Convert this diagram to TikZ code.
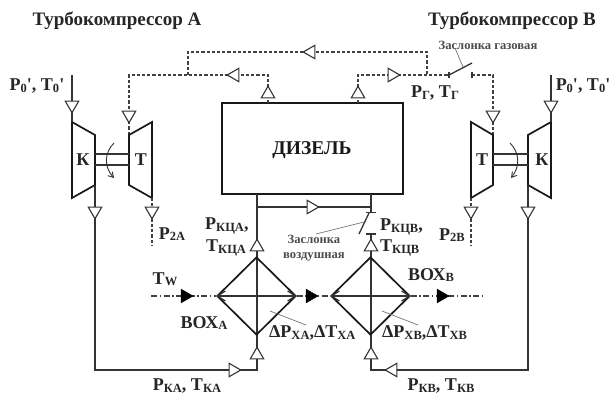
\documentclass[tikz,border=0pt]{standalone}
\usepackage{fontspec}
\setmainfont{Liberation Serif}
\usetikzlibrary{shapes.geometric,arrows.meta}
\newcommand{\sbs}[1]{\raisebox{-1.5pt}{\fontsize{12.5}{12.5}\selectfont #1}}
\tikzset{
  x=1pt,y=-1pt,
  ln/.style={line width=1.3pt,draw=black!80},
  dsh/.style={line width=1.3pt,draw=black!75,dash pattern=on 3.2pt off 2pt},
  dd/.style={line width=1.1pt,draw=black!75,dash pattern=on 6pt off 2.5pt on 1.5pt off 2.5pt},
  thick box/.style={line width=1.7pt,draw=black!90},
  thin lead/.style={line width=.7pt,draw=black!55},
  flow/.style={regular polygon,regular polygon sides=3,draw=black!80,line width=1.1pt,fill=white,inner sep=0pt,minimum size=15.5pt,shape border rotate=#1},
  flowfill/.style={regular polygon,regular polygon sides=3,draw=black,fill=black,inner sep=0pt,minimum size=16pt,shape border rotate=#1},
  lab/.style={font=\bfseries\fontsize{18}{19}\selectfont,text=black!85,inner sep=0pt},
  head/.style={font=\bfseries\fontsize{19}{20}\selectfont,text=black!85,inner sep=0pt},
  small/.style={font=\bfseries\fontsize{12.6}{15}\selectfont,text=black!70,inner sep=0pt,align=center},
  mach/.style={thick box,line join=miter},
}
\begin{document}
\begin{tikzpicture}
\useasboundingbox (0,0) rectangle (611,394);
\fill[white] (0,0) rectangle (611,394);

% texts
\node[head] (hA) at (117,21) {Турбокомпрессор А};
\node[head] (hB) at (512,21) {Турбокомпрессор В};
\node[small] (zg) at (488,45) {Заслонка газовая};
\node[small] (zv) at (314,248) {Заслонка\\воздушная};
\node[lab] (p0a) at (37,86) {P\sbs{0}\textquotesingle, T\sbs{0}\textquotesingle};
\node[lab] (p0b) at (583,86) {P\sbs{0}\textquotesingle, T\sbs{0}\textquotesingle};
\node[lab] (kA) at (83,160) {К};
\node[lab] (tA) at (141,160) {Т};
\node[lab] (tB) at (482,160) {Т};
\node[lab] (kB) at (542,160) {К};
\node[lab] (pg) at (435,93) {P\sbs{Г}, T\sbs{Г}};
\node[lab] (p2a) at (172,234) {P\sbs{2А}};
\node[lab] (p2b) at (452,235) {P\sbs{2В}};
\node[lab,anchor=west] (pka) at (205,226) {P\sbs{КЦА},};
\node[lab,anchor=west] (tka) at (206,248) {T\sbs{КЦА}};
\node[lab,anchor=west] (pkb) at (380,227) {P\sbs{КЦВ},};
\node[lab,anchor=west] (tkb) at (380,248) {T\sbs{КЦВ}};
\node[lab] (tw) at (165,279) {T\sbs{W}};
\node[lab] (boxa) at (204,323) {ВОХ\sbs{А}};
\node[lab] (boxb) at (431,275) {ВОХ\sbs{В}};
\node[lab,anchor=west] (dxa) at (269,333) {ΔP\sbs{ХА},ΔT\sbs{ХА}};
\node[lab,anchor=west] (dxb) at (382,333) {ΔP\sbs{ХВ},ΔT\sbs{ХВ}};
\node[lab] (ptka) at (187,386) {P\sbs{КА}, T\sbs{КА}};
\node[lab] (ptkb) at (441,386) {P\sbs{КВ}, T\sbs{КВ}};

% Diesel
\node[thick box,draw,minimum width=181pt,minimum height=91pt,inner sep=0pt] (d) at (312.5,148.5) {};
\node[font=\bfseries\fontsize{19.5}{20}\selectfont,text=black!90,inner sep=0pt] at (312,150) {ДИЗЕЛЬ};

% coordinates
\coordinate (da1) at (268,103); \coordinate (da2) at (268,75);
\coordinate (db1) at (358,103); \coordinate (db2) at (358,75);
\coordinate (tla) at (129,75); \coordinate (tia) at (129,135);
\coordinate (j1) at (188,75); \coordinate (j2) at (188,52);
\coordinate (j3) at (427,52); \coordinate (j4) at (427,75);
\coordinate (fg1) at (449,75); \coordinate (fg2) at (472,75);
\coordinate (fgt) at (472,63);
\coordinate (trb) at (493,75); \coordinate (tib) at (493,135);

% Exhaust gas (dashed)
\draw[dsh] (da1) -- (da2) -- (tla) -- (tia);
\draw[dsh] (j1) -- (j2) -- (j3) -- (j4);
\draw[dsh] (db1) -- (db2) -- (fg1);
\draw[dsh] (fg2) -- (trb) -- (tib);
\draw[ln] (449,72) -- (449,78) (472,72) -- (472,78);
\draw[ln] (fg1) -- (fgt);
\draw[thin lead] (455,48) -- (463,67);

% machines
\draw[mach] (72,122) -- (95,135) -- (95,185) -- (72,198) -- cycle;
\draw[mach] (152,122) -- (129,135) -- (129,185) -- (152,198) -- cycle;
\draw[mach] (551,122) -- (528,135) -- (528,185) -- (551,198) -- cycle;
\draw[mach] (471,122) -- (493,135) -- (493,185) -- (471,198) -- cycle;
\draw[ln] (95,154) -- (129,154) (95,165) -- (129,165);
\draw[ln] (493,154) -- (528,154) (493,165) -- (528,165);
\draw[line width=.9pt,draw=black!80,-{Straight Barb[length=5pt,width=6pt]}] (114,143) .. controls (104,153) and (104,167) .. (114,178);
\draw[line width=.9pt,draw=black!80,-{Straight Barb[length=5pt,width=6pt]}] (510,143) .. controls (520,153) and (520,167) .. (511,178);

% inlet
\coordinate (ia) at (72,75); \coordinate (iae) at (72,122);
\coordinate (ib) at (551,75); \coordinate (ibe) at (551,122);
\draw[ln] (ia) -- (iae);
\draw[ln] (ib) -- (ibe);

% air lines
\coordinate (oa) at (95,185); \coordinate (oa2) at (95,370);
\coordinate (ca) at (257,370); \coordinate (ca2) at (257,194);
\coordinate (ob) at (528,185); \coordinate (ob2) at (528,370);
\coordinate (cb) at (371,370); \coordinate (cb2) at (371,234);
\coordinate (cb3) at (371,194); \coordinate (cb4) at (371,212);
\coordinate (ma) at (257,207); \coordinate (mb) at (371,207);
\draw[ln] (oa) -- (oa2) -- (ca) -- (ca2);
\draw[ln] (ob) -- (ob2) -- (cb) -- (cb2);
\draw[ln] (cb3) -- (cb4);
\draw[ln] (ma) -- (mb);
\draw[ln] (366,212.5) -- (376,212.5) (366,234) -- (376,234);
\draw[ln] (369,213) -- (359,234);
\draw[thin lead] (316,234) -- (364,222);

% outlets
\coordinate (pa) at (152,198); \coordinate (pae) at (152,246);
\coordinate (pb) at (471,198); \coordinate (pbe) at (471,246);
\draw[dsh] (pa) -- (pae);
\draw[dsh] (pb) -- (pbe);

% cooler
\node[thick box,draw,diamond,minimum width=79pt,minimum height=78pt,inner sep=0pt,aspect=1] (ca0) at (256.5,296) {};
\node[thick box,draw,diamond,minimum width=79pt,minimum height=78pt,inner sep=0pt,aspect=1] (cb0) at (370.5,296) {};
\draw[ln,{Straight Barb[length=8pt,width=10pt]}-{Straight Barb[length=8pt,width=10pt]}] (ca0.west) -- (ca0.east);
\draw[ln,{Straight Barb[length=8pt,width=10pt]}-{Straight Barb[length=8pt,width=10pt]}] (cb0.west) -- (cb0.east);
\coordinate (wi) at (151,296); \coordinate (we) at (482,296);
\draw[dd] (wi) -- (ca0.west);
\draw[dd] (ca0.east) -- (cb0.west);
\draw[dd] (cb0.east) -- (we);
\draw[thin lead] (270,311) -- (306,325);
\draw[thin lead] (382,311) -- (418,325);

% flow triangles
\node[flow=180] at (72,105) {};
\node[flow=180] at (551,105) {};
\node[flow=180] at (129,115) {};
\node[flow=180] at (493,115) {};
\node[flow=180] at (95,211) {};
\node[flow=180] at (152,211) {};
\node[flow=180] at (471,211) {};
\node[flow=180] at (528,211) {};
\node[flow=0] at (268,94) {};
\node[flow=0] at (358,94) {};
\node[flow=90] at (235,75) {};
\node[flow=90] at (311,52) {};
\node[flow=-90] at (392,75) {};
\node[flow=-90] at (311,207) {};
\node[flow=0] at (257,247) {};
\node[flow=0] at (371,247) {};
\node[flow=0] at (257,355) {};
\node[flow=0] at (371,355) {};
\node[flow=-90] at (233,370) {};
\node[flow=90] at (393,370) {};
\node[flowfill=-90] at (185,296) {};
\node[flowfill=-90] at (310,296) {};
\node[flowfill=-90] at (441,296) {};
\end{tikzpicture}
\end{document}
